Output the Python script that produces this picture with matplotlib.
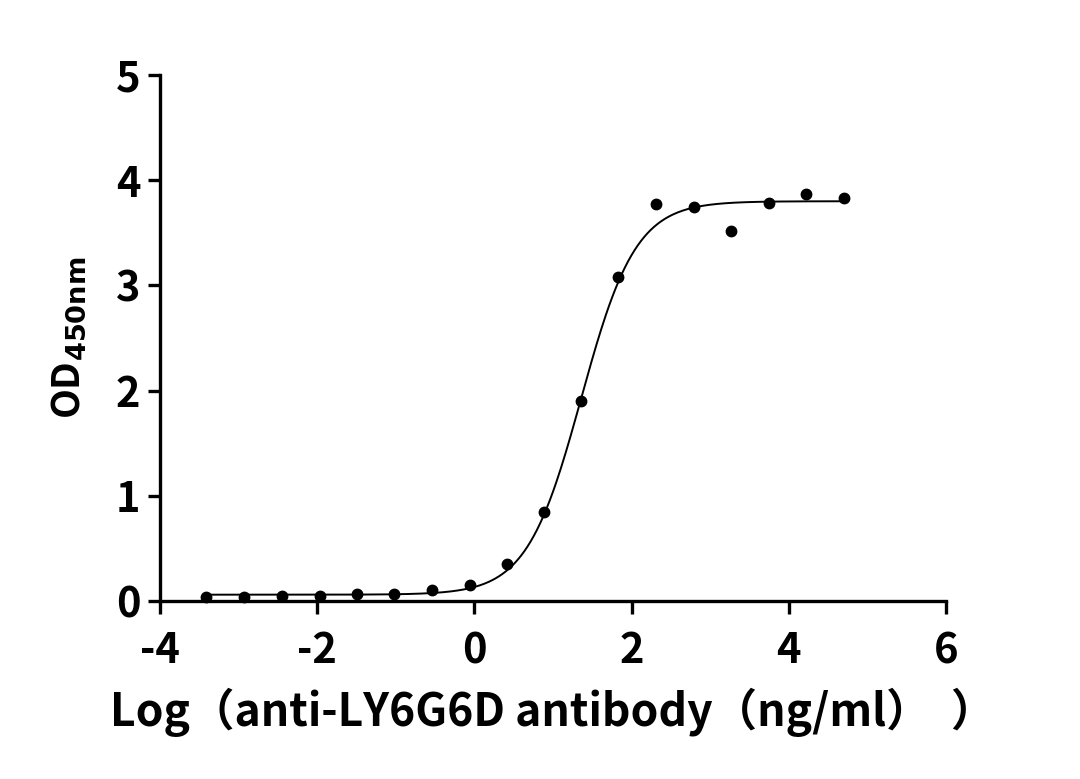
import numpy as np
import matplotlib
matplotlib.use("Agg")
import matplotlib.pyplot as plt

plt.rcParams['font.family'] = ['Noto Sans CJK SC', 'DejaVu Sans']

# Data
log_conc = [-3.41, -2.93, -2.45, -1.97, -1.49, -1.02, -0.54, -0.06, 0.41, 0.88,
            1.36, 1.83, 2.31, 2.79, 3.27, 3.75, 4.22, 4.70]
od450 = [0.04, 0.04, 0.05, 0.05, 0.07, 0.07, 0.10, 0.15, 0.35, 0.85,
         1.90, 3.08, 3.77, 3.75, 3.52, 3.78, 3.87, 3.83]

# 4PL fit parameters (estimated from the curve)
bottom, top, log_ec50, hill = 0.06, 3.80, 1.36, 1.25

x_ticks = [-4, -2, 0, 2, 4, 6]
y_ticks = [0, 1, 2, 3, 4, 5]

fig = plt.figure(figsize=(10.8, 7.79), dpi=100)
ax = fig.add_axes([160/1080, 1-601/779, (946-160)/1080, (601-75)/779])

xf = np.linspace(min(log_conc), max(log_conc), 400)
yf = bottom + (top - bottom) / (1 + 10 ** ((log_ec50 - xf) * hill))
ax.plot(xf, yf, color='black', lw=1.4, zorder=2)
ax.plot(log_conc, od450, 'o', color='black', ms=7.5, zorder=3, clip_on=False)

ax.set_xlim(-4, 6)
ax.set_ylim(0, 5)
ax.set_xticks(x_ticks)
ax.set_yticks(y_ticks)
ax.set_xticklabels([str(t) for t in x_ticks], fontsize=30, fontweight='heavy')
ax.set_yticklabels([str(t) for t in y_ticks], fontsize=30, fontweight='heavy')
for s in ['top', 'right']:
    ax.spines[s].set_visible(False)
for s in ['left', 'bottom']:
    ax.spines[s].set_linewidth(2.4)
ax.tick_params(axis='x', direction='out', length=9, width=2.4, pad=12)
ax.tick_params(axis='y', direction='out', length=9, width=2.4, pad=5)

ax.set_xlabel('Log（anti-LY6G6D antibody（ng/ml）  ）', fontsize=32,
              fontweight='heavy', labelpad=11)
ax.set_ylabel(r'OD$_{\mathbf{450nm}}$', fontsize=28, fontweight='heavy', labelpad=20)

fig.savefig('out.png', dpi=100)
